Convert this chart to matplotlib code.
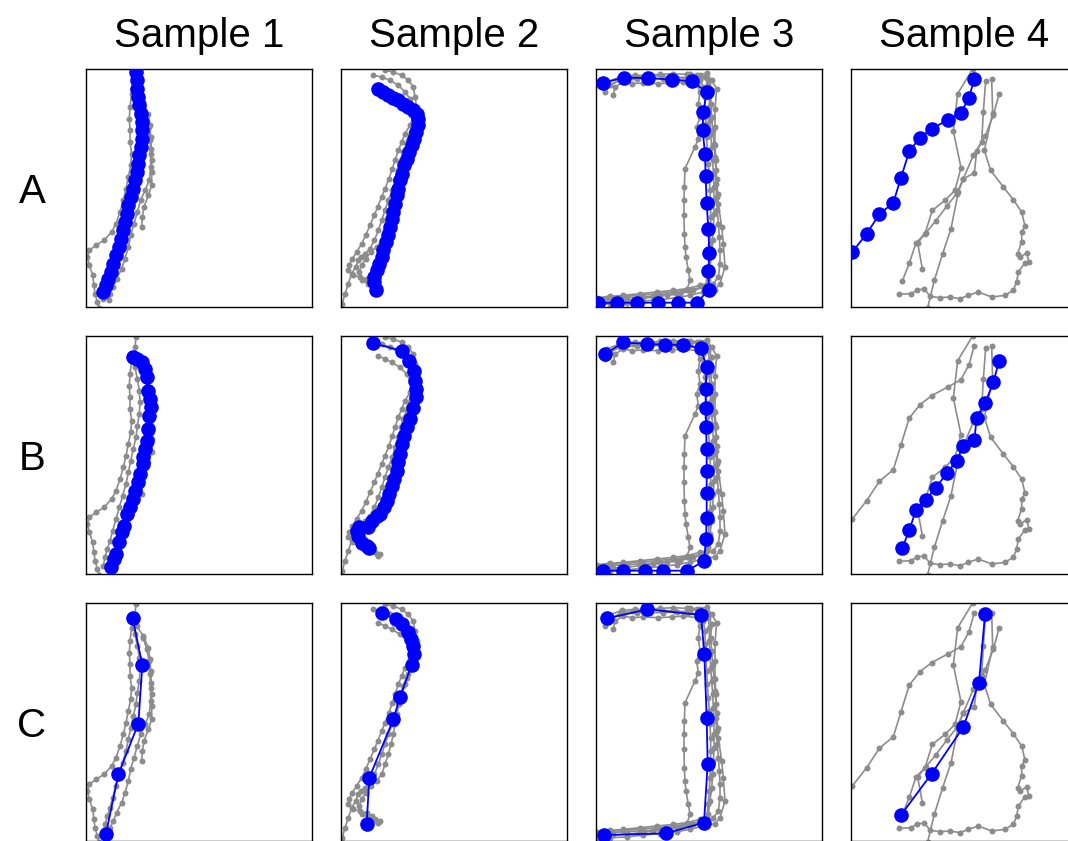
import matplotlib
matplotlib.use("Agg")
import matplotlib.pyplot as plt

# ---------------- data (trajectory coordinates, panel units: x 18..696, y 26..740 downward) -------------
samples = ["Sample 1", "Sample 2", "Sample 3", "Sample 4"]
rows = ["A", "B", "C"]

# Sample 1 gray trajectories
s1_g1 = [(168,28),(165,60),(170,95),(190,125),(205,160),(210,195),(212,230),(214,265),(215,300),
         (215,335),(215,375),(205,405),(192,440),(187,470),(185,500)]
s1_g2 = [(155,100),(150,140),(148,175),(150,210),(150,245),(155,280),(152,315),(145,350),(138,385),
         (130,420),(120,455),(108,490),(95,515),(72,540),(48,555),(28,570),(22,590),(28,615),(38,645),
         (42,675),(45,700),(52,725),(58,742)]
s1_g3 = [(160,85),(165,120),(172,155),(178,190),(180,225),(178,260),(172,295),(168,330),(160,365),
         (152,400),(145,435),(138,470),(128,505),(118,540),(108,575),(98,610),(90,640),(82,665),
         (75,690),(70,715)]
s1_g4 = [(190,130),(200,165),(208,200),(210,240),(212,280),(212,320),(208,360),(195,390),(182,420),
         (172,455),(162,490),(152,525),(145,560),(135,595),(125,625),(110,655),(100,680),(90,700),(88,720)]
s1_blue_A = [(168,35),(170,60),(172,85),(174,110),(178,135),(182,160),(185,185),(186,210),(185,235),
             (182,260),(178,285),(174,310),(170,335),(165,360),(158,385),(152,410),(145,435),(140,460),
             (134,485),(128,510),(122,535),(116,560),(108,585),(100,610),(92,635),(85,655),(78,675),(70,695)]
s1_blue_B = [(158,88),(170,95),(185,105),(195,125),(200,150),(205,190),(210,215),(212,240),(208,265),
             (205,305),(200,340),(195,365),(190,390),(188,410),(180,440),(175,465),(165,490),(158,515),
             (150,540),(142,560),(132,595),(125,615),(118,645),(108,680),(102,695),(92,718)]
s1_blue_C = [(158,72),(187,212),(175,388),(115,540),(78,718)]

# Sample 2 gray trajectories
s2_g1 = [(150,30),(175,35),(200,45),(220,60),(235,80),(240,110),(245,140),(245,175),(235,200),(225,225),
         (215,250),(205,275),(198,300),(190,330),(180,360),(172,390),(160,420),(150,450),(140,480),
         (130,510),(118,540),(105,565),(90,580),(78,590),(70,600),(62,620),(50,640),(40,670),(30,700),(22,730)]
s2_g2 = [(115,45),(140,50),(165,60),(190,75),(210,95),(225,115),(232,140),(235,170),(225,195),(210,220),
         (200,245),(190,270),(180,300),(172,325),(162,355),(150,385),(140,410),(128,440),(118,465),
         (105,495),(92,525),(80,550),(65,575),(52,595),(42,615),(40,630),(55,645),(75,650),(95,655),
         (110,665),(125,680),(128,685)]
s2_g3 = [(130,85),(150,95),(170,105),(195,120),(215,140),(228,165),(235,190),(228,215),(220,240),
         (210,270),(200,300),(192,330),(185,360),(180,390),(175,420),(168,450),(160,480),(150,510),
         (140,540),(125,560),(108,575),(92,595),(80,615),(72,635),(80,660),(100,670),(120,675),(135,680)]
s2_blue_A = [(130,85),(145,95),(160,105),(175,113),(190,120),(205,130),(220,140),(235,150),(245,160),
             (250,175),(248,195),(243,215),(237,235),(230,255),(222,275),(215,295),(208,315),(202,340),
             (196,360),(190,385),(185,405),(180,430),(175,455),(170,475),(165,500),(160,525),(153,545),
             (145,570),(140,590),(132,610),(125,630),(118,650),(118,665),(122,688)]
s2_blue_B = [(115,48),(200,70),(222,100),(236,130),(240,160),(242,185),(244,210),(235,242),(225,275),
             (215,300),(208,325),(202,350),(196,380),(190,405),(185,430),(178,455),(170,475),(162,500),
             (155,520),(148,540),(135,560),(125,565),(110,580),(100,598),(72,598),(65,610),(68,625),
             (80,648),(95,655),(103,662)]
s2_blue_C = [(140,55),(183,75),(200,90),(218,112),(228,135),(235,155),(238,178),(230,212),(195,308),
             (175,375),(103,550),(95,688)]

# Sample 3 gray trajectories
s3_g1 = [(45,95),(60,75),(95,55),(130,50),(170,45),(210,42),(250,40),(290,42),(320,45),(345,50),(355,70),
         (358,100),(358,140),(360,180),(362,220),(365,260),(368,300),(370,340),(372,380),(372,420),
         (372,460),(370,500),(368,540),(365,580),(360,620),(355,660),(345,680),(310,690),(270,700),
         (230,705),(190,710),(150,715),(110,720),(70,722),(30,725)]
s3_g2 = [(70,105),(75,80),(100,65),(125,70),(160,68),(205,70),(245,68),(280,65),(320,70),(330,95),
         (325,130),(330,170),(320,200),(325,235),(315,260),(285,325),(283,380),(282,420),(282,465),
         (283,520),(285,560),(288,590),(295,630),(300,660),(290,690),(260,700),(210,705),(160,710),
         (110,712),(60,715),(25,718)]
s3_g3 = [(45,80),(90,60),(140,55),(180,55),(220,55),(260,52),(300,50),(350,38),(365,60),(380,85),
         (375,145),(375,200),(375,255),(378,300),(380,355),(383,400),(385,430),(395,500),(400,550),
         (405,620),(390,670),(375,688),(340,695),(300,705),(260,712),(210,718),(160,722),(110,728),
         (60,730),(20,735)]
s3_g4 = [(50,65),(95,48),(135,45),(175,45),(215,48),(255,50),(295,55),(330,60),(340,80),(345,110),
         (345,150),(348,190),(350,230),(352,270),(355,310),(358,350),(360,390),(362,430),(362,470),
         (362,510),(360,550),(358,590),(355,630),(350,670),(330,675),(290,685),(250,690),(200,695),
         (150,700),(100,705),(60,708),(20,712)]
s3_g5 = [(300,40),(330,45),(355,60),(365,90),(362,130),(365,170),(368,210),(372,250),(375,290),
         (378,330),(378,370),(380,410),(382,450),(385,490),(388,530),(390,570),(390,610),(385,650),
         (370,670),(340,680),(300,688),(250,695),(200,700),(150,705),(100,708),(50,712),(20,715)]
s3_blue_A = [(40,67),(103,52),(175,53),(245,58),(305,62),(350,95),(340,155),(338,210),(345,280),
             (347,348),(350,428),(355,505),(358,577),(355,632),(357,688),(320,727),(265,727),(205,727),
             (142,727),(80,727),(25,728)]
s3_blue_B = [(45,80),(100,45),(170,50),(225,52),(278,53),(332,62),(350,120),(347,185),(347,242),
             (348,300),(350,365),(350,430),(350,498),(350,572),(348,635),(342,702),(290,730),(220,730),
             (165,730),(100,730),(40,730)]
s3_blue_C = [(52,72),(172,45),(333,62),(343,180),(350,372),(353,508),(342,685),(228,717),(42,722)]

# Sample 4 trajectories
s4_left = [(22,575),(65,520),(103,462),(145,427),(168,352),(193,272),(225,232),(260,205),(310,178),
           (348,157),(372,112),(388,55)]
s4_mid = [(172,662),(193,608),(213,548),(242,518),(272,482),(305,438),(335,400),(355,355),(388,338),
          (395,272),(420,228),(445,165),(462,102)]
s4_a = [(383,26),(338,100),(325,212),(348,322),(330,390),(300,420),(262,450),(240,520),(218,548),(232,625)]
s4_b = [(422,62),(415,155),(410,245),(385,285),(355,355),(340,395),(318,505),(293,580),(268,660),(248,742)]
s4_c = [(440,55),(443,158),(418,270),(437,330),(475,380),(505,418),(530,455),(540,497),(530,515),
        (530,545),(518,580),(525,590),(545,578),(552,605),(540,607),(520,635),(515,665),(505,690),
        (480,705),(440,710),(400,695),(370,705),(345,715),(315,710),(285,712),(255,708),(238,685),
        (215,690),(198,700),(162,702)]
s4_blue_C = [(168,662),(260,538),(355,398),(402,265),(420,60)]

gray_sets = {
    (0, 0): [s1_g1, s1_g2, s1_g3, s1_g4], (0, 1): [s1_g1, s1_g2, s1_g3, s1_g4], (0, 2): [s1_g1, s1_g2, s1_g3, s1_g4],
    (1, 0): [s2_g1, s2_g2, s2_g3], (1, 1): [s2_g1, s2_g2, s2_g3], (1, 2): [s2_g1, s2_g2, s2_g3],
    (2, 0): [s3_g1, s3_g2, s3_g3, s3_g4, s3_g5], (2, 1): [s3_g1, s3_g2, s3_g3, s3_g4, s3_g5],
    (2, 2): [s3_g1, s3_g2, s3_g3, s3_g4, s3_g5],
    (3, 0): [s4_mid, s4_a, s4_b, s4_c], (3, 1): [s4_left, s4_a, s4_b, s4_c],
    (3, 2): [s4_left, s4_mid, s4_a, s4_b, s4_c],
}
blue_sets = {
    (0, 0): s1_blue_A, (0, 1): s1_blue_B, (0, 2): s1_blue_C,
    (1, 0): s2_blue_A, (1, 1): s2_blue_B, (1, 2): s2_blue_C,
    (2, 0): s3_blue_A, (2, 1): s3_blue_B, (2, 2): s3_blue_C,
    (3, 0): s4_left, (3, 1): s4_mid, (3, 2): s4_blue_C,
}

# ---------------- layout ----------------
W, H = 1068, 841
fig = plt.figure(figsize=(W / 100, H / 100), dpi=100)
panel_w, panel_h = 226, 238
lefts = [86, 341, 596, 851]
tops = [69, 336, 603]

font = "Liberation Sans"
for c, lx in enumerate(lefts):
    fig.text((lx + panel_w / 2) / W, 1 - 47 / H, samples[c], ha="center", va="baseline",
             fontsize=29, family=font)
for r, ty in enumerate(tops):
    fig.text(32 / W, 1 - (ty + panel_h / 2 + 15) / H, rows[r], ha="center", va="baseline",
             fontsize=29, family=font)

for c, lx in enumerate(lefts):
    for r, ty in enumerate(tops):
        ax = fig.add_axes([lx / W, 1 - (ty + panel_h) / H, panel_w / W, panel_h / H])
        for tr in gray_sets[(c, r)]:
            xs = [p[0] for p in tr]
            ys = [p[1] for p in tr]
            ax.plot(xs, ys, color="#8c8c8c", lw=1.2, marker="o", ms=4.3, mec="none", zorder=2)
        b = blue_sets[(c, r)]
        ax.plot([p[0] for p in b], [p[1] for p in b], color="#0000ff", lw=1.3, marker="o",
                ms=10.5, mec="none", zorder=3)
        ax.set_xlim(18, 696)
        ax.set_ylim(740, 26)
        ax.set_xticks([])
        ax.set_yticks([])
        for s in ax.spines.values():
            s.set_linewidth(1.0)
            s.set_color("black")

fig.savefig("out.png", dpi=100)
